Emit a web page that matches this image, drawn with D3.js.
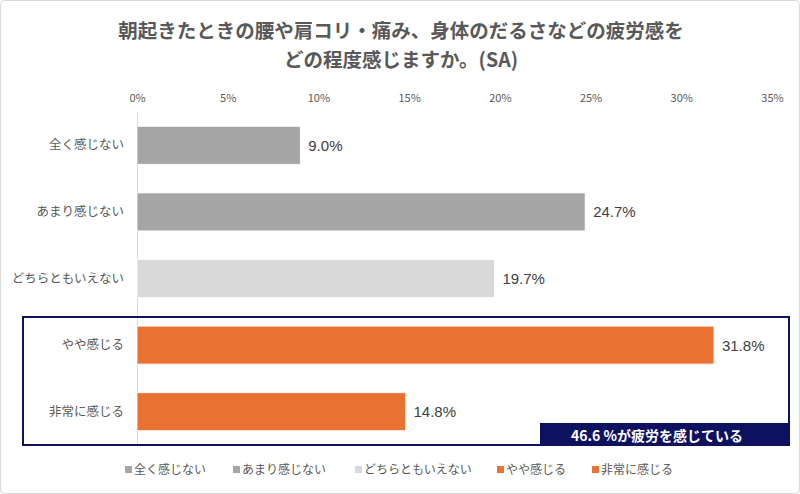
<!DOCTYPE html>
<html><head><meta charset="utf-8">
<script src="https://cdn.jsdelivr.net/npm/d3@7/dist/d3.min.js"></script>
<style>
body{margin:0;background:#fff;}
svg{display:block;font-family:"Noto Sans CJK JP","Noto Sans",sans-serif;}
</style></head><body>
<svg id="c" width="800" height="494"></svg>
<script>
const categories = ["全く感じない","あまり感じない","どちらともいえない","やや感じる","非常に感じる"];
const values = [9.0, 24.7, 19.7, 31.8, 14.8];
const colors = ["#a5a5a5","#a5a5a5","#d9d9d9","#e97132","#e97132"];
const ticks = [0,5,10,15,20,25,30,35];
const titleLines = ["朝起きたときの腰や肩コリ・痛み、身体のだるさなどの疲労感を","どの程度感じますか。(SA)"];
const calloutText = "46.6 %が疲労を感じている";

const svg = d3.select("#c");
svg.append("rect").attr("x",0.5).attr("y",0.5).attr("width",799).attr("height",493)
  .attr("rx",4).attr("fill","#fff").attr("stroke","#d9d9d9");

const x = d3.scaleLinear().domain([0,35]).range([137,772]);
const y = d3.scaleBand().domain(categories).range([112,445]).paddingInner(0.43).paddingOuter(0.215);

svg.selectAll(".title").data(titleLines).enter().append("text")
  .attr("x",401).attr("y",(d,i)=>38+i*29).attr("text-anchor","middle")
  .attr("font-size",19.5).attr("font-weight","bold").attr("fill","#595959").text(d=>d);

// x axis labels at top
const xAxis = d3.axisTop(x).tickValues(ticks).tickFormat(d=>d+"%").tickSize(0);
const gx = svg.append("g").attr("transform","translate(0,105)").call(xAxis);
gx.select(".domain").remove();
gx.selectAll("text").attr("font-size",11).attr("fill","#595959").attr("font-family","'Noto Sans CJK JP',sans-serif");

// y axis
const yAxis = d3.axisLeft(y).tickSize(0).tickPadding(13);
const gy = svg.append("g").attr("transform","translate(137,0)").call(yAxis);
gy.select(".domain").attr("stroke","#d9d9d9");
gy.selectAll("text").attr("font-size",12.5).attr("fill","#595959").attr("font-family","'Noto Sans CJK JP',sans-serif");

// navy box
svg.append("rect").attr("x",23).attr("y",317).attr("width",766).attr("height",128)
  .attr("fill","none").attr("stroke","#0e1160").attr("stroke-width",2);

svg.selectAll(".bar").data(values).enter().append("rect")
  .attr("x",x(0)).attr("y",(d,i)=>y(categories[i]))
  .attr("width",d=>x(d)-x(0)).attr("height",y.bandwidth())
  .attr("fill",(d,i)=>colors[i]).attr("stroke","#fff").attr("stroke-width",0.8);

svg.selectAll(".val").data(values).enter().append("text")
  .attr("x",d=>x(d)+8).attr("y",(d,i)=>y(categories[i])+y.bandwidth()/2+5.5)
  .attr("font-size",15).attr("fill","#404040").attr("font-family","'Liberation Sans',Arial,sans-serif")
  .text(d=>d.toFixed(1)+"%");

// callout
svg.append("rect").attr("x",540).attr("y",423).attr("width",250).attr("height",23).attr("fill","#0e1160");
svg.append("text").attr("x",657).attr("y",440.5).attr("text-anchor","middle")
  .attr("font-size",14).attr("font-weight","bold").attr("fill","#fff").text(calloutText);

// legend
const legX = [125,233,355,497,592];
const lg = svg.selectAll(".leg").data(categories).enter().append("g")
  .attr("transform",(d,i)=>`translate(${legX[i]},470)`);
lg.append("rect").attr("x",0).attr("y",-4).attr("width",7).attr("height",7).attr("fill",(d,i)=>colors[i]);
lg.append("text").attr("x",9).attr("y",4).attr("font-size",12).attr("fill","#595959").text(d=>d);
</script>
</body></html>
